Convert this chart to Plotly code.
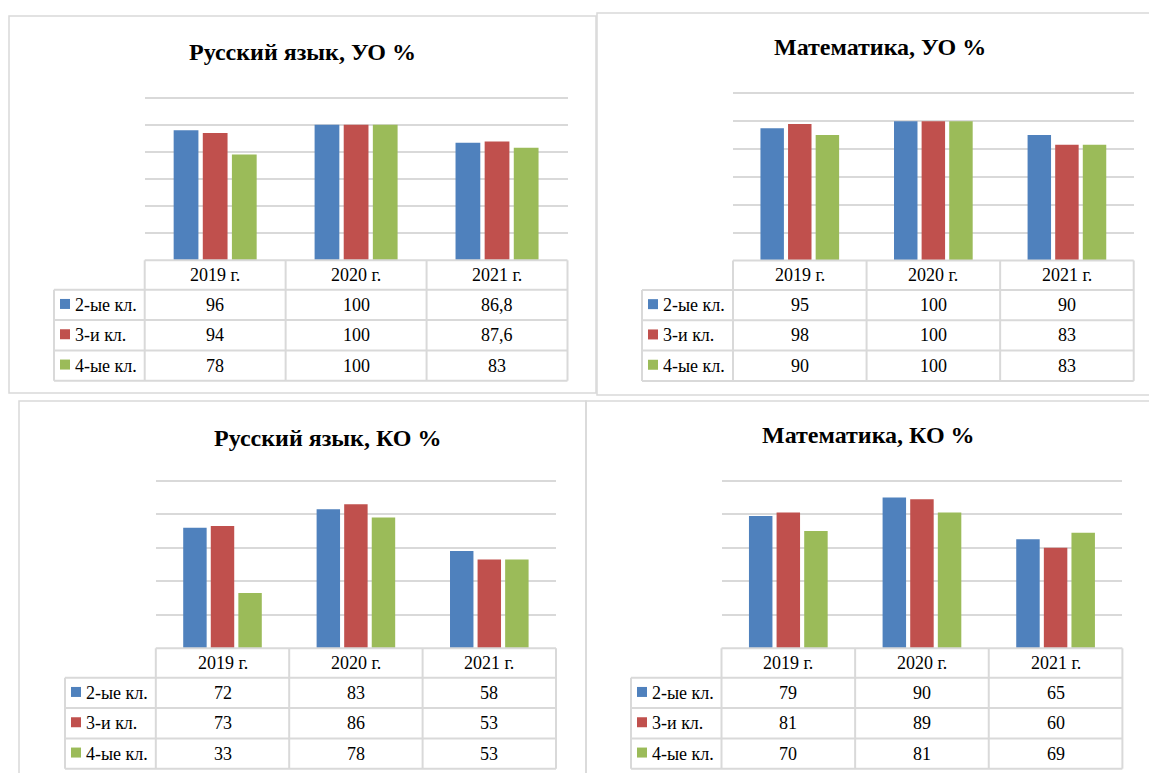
import plotly.graph_objects as go

W, H = 1149, 773

# ---- data -------------------------------------------------------------
years = ["2019 г.", "2020 г.", "2021 г."]
grades = ["2-ые кл.", "3-и кл.", "4-ые кл."]
colors = ["#4F81BD", "#C0504D", "#9BBB59"]

titles = ["Русский язык, УО %", "Математика, УО %",
          "Русский язык, КО %", "Математика, КО %"]

rus_uo_2 = [96, 100, 86.8]
rus_uo_3 = [94, 100, 87.6]
rus_uo_4 = [78, 100, 83]

mat_uo_2 = [95, 100, 90]
mat_uo_3 = [98, 100, 83]
mat_uo_4 = [90, 100, 83]

rus_ko_2 = [72, 83, 58]
rus_ko_3 = [73, 86, 53]
rus_ko_4 = [33, 78, 53]

mat_ko_2 = [79, 90, 65]
mat_ko_3 = [81, 89, 60]
mat_ko_4 = [70, 81, 69]

series = [
    [rus_uo_2, rus_uo_3, rus_uo_4],
    [mat_uo_2, mat_uo_3, mat_uo_4],
    [rus_ko_2, rus_ko_3, rus_ko_4],
    [mat_ko_2, mat_ko_3, mat_ko_4],
]
y_max = [120, 120, 100, 100]

# ---- layout geometry (pixels) ----------------------------------------
# frame: (left, top, right, bottom); plot: (left, right, top, base)
panels = [
    dict(frame=(9, 16, 596, 393), plot=(144.7, 567.5, 97.7, 260.3),
         label_left=54, title=(302, 52)),
    dict(frame=(597, 13, 1165, 395), plot=(733, 1133.7, 93.3, 260.5),
         label_left=642, title=(880, 47)),
    dict(frame=(19, 401, 586, 790), plot=(155.8, 556, 480.7, 648.3),
         label_left=65, title=(327.7, 438)),
    dict(frame=(586, 401, 1165, 790), plot=(721.5, 1122.4, 480.7, 648.3),
         label_left=631, title=(868.7, 435)),
]
HEADER_H = 29.5
ROW_H = 30.3
LINE = "#d9d9d9"
FONT = "Liberation Serif, Times New Roman, serif"
HEADROOM = 6  # px above the top gridline so it is not clipped at the edge


def fx(x):
    return x / W


def fy(y):
    return 1 - y / H


def fmt(v):
    return f"{v:g}".replace(".", ",")


fig = go.Figure()
shapes = []
annotations = []

for i, (p, vals) in enumerate(zip(panels, series)):
    n = i + 1
    xa = "x" if n == 1 else f"x{n}"
    ya = "y" if n == 1 else f"y{n}"
    xl, xr, yt, yb = p["plot"]
    pad = HEADROOM / (yb - yt)
    top = yt - HEADROOM

    for g, (name, col, v) in enumerate(zip(grades, colors, vals)):
        fig.add_trace(go.Bar(
            x=years, y=v, name=name, marker_color=col,
            marker_line_width=0, xaxis=xa, yaxis=ya,
            showlegend=False, hoverinfo="skip",
        ))

    fig.layout[f"xaxis{'' if n == 1 else n}"] = dict(
        domain=[fx(xl), fx(xr)], anchor=ya, showticklabels=False,
        showgrid=False, zeroline=False, showline=False, ticks="",
        range=[-0.5, 2.5], fixedrange=True,
    )
    fig.layout[f"yaxis{'' if n == 1 else n}"] = dict(
        domain=[fy(yb), fy(top)], anchor=xa,
        range=[0, y_max[i] * (1 + pad)],
        tick0=0, dtick=20, showticklabels=False, showgrid=True,
        gridcolor=LINE, gridwidth=2, zeroline=False, showline=False,
        ticks="", fixedrange=True,
    )

    # panel frame
    fl, ft, fr, fb = p["frame"]
    shapes.append(dict(type="rect", xref="paper", yref="paper",
                       x0=fx(fl), x1=fx(fr), y0=fy(fb), y1=fy(ft),
                       line=dict(color=LINE, width=1.5), layer="below"))

    # title
    tx, ty = p["title"]
    annotations.append(dict(text=f"<b>{titles[i]}</b>", xref="paper",
                            yref="paper", x=fx(tx), y=fy(ty),
                            xanchor="center", yanchor="middle",
                            showarrow=False,
                            font=dict(family=FONT, size=24, color="#000")))

    # data table under the plot
    ll = p["label_left"]
    cw = (xr - xl) / 3
    h_top = yb
    r_top = yb + HEADER_H
    t_bot = r_top + 3 * ROW_H
    tbl = dict(type="line", xref="paper", yref="paper",
               line=dict(color=LINE, width=2), layer="above")
    # horizontal rules
    shapes.append({**tbl, "x0": fx(xl), "x1": fx(xr),
                   "y0": fy(h_top), "y1": fy(h_top)})
    for r in range(4):
        yy = r_top + r * ROW_H
        shapes.append({**tbl, "x0": fx(ll), "x1": fx(xr),
                       "y0": fy(yy), "y1": fy(yy)})
    # vertical rules
    shapes.append({**tbl, "x0": fx(ll), "x1": fx(ll),
                   "y0": fy(r_top), "y1": fy(t_bot)})
    for c in range(4):
        xx = xl + c * cw
        shapes.append({**tbl, "x0": fx(xx), "x1": fx(xx),
                       "y0": fy(h_top), "y1": fy(t_bot)})

    # header row: category names
    for c, yr in enumerate(years):
        annotations.append(dict(text=yr, xref=xa, yref="paper", x=yr,
                                y=fy(h_top + HEADER_H / 2),
                                xanchor="center", yanchor="middle",
                                showarrow=False,
                                font=dict(family=FONT, size=18, color="#000")))

    # rows: legend key + values
    for g, (name, col, v) in enumerate(zip(grades, colors, vals)):
        yc = r_top + (g + 0.5) * ROW_H
        shapes.append(dict(type="rect", xref="paper", yref="paper",
                           x0=fx(ll + 6), x1=fx(ll + 16),
                           y0=fy(yc + 4), y1=fy(yc - 6),
                           fillcolor=col, line=dict(width=0), layer="above"))
        annotations.append(dict(text=name, xref="paper", yref="paper",
                                x=fx(ll + 18.5), y=fy(yc), xanchor="left",
                                yanchor="middle", showarrow=False,
                                font=dict(family=FONT, size=18, color="#000")))
        for c, yr in enumerate(years):
            annotations.append(dict(text=fmt(v[c]), xref=xa, yref="paper",
                                    x=yr, y=fy(yc), xanchor="center",
                                    yanchor="middle", showarrow=False,
                                    font=dict(family=FONT, size=18,
                                              color="#000")))

fig.update_layout(
    width=W, height=H, margin=dict(l=0, r=0, t=0, b=0),
    paper_bgcolor="white", plot_bgcolor="white",
    barmode="group", bargap=0.38, bargroupgap=0.15,
    shapes=shapes, annotations=annotations, showlegend=False,
)

fig.write_html("out.html", config={"displayModeBar": False})
